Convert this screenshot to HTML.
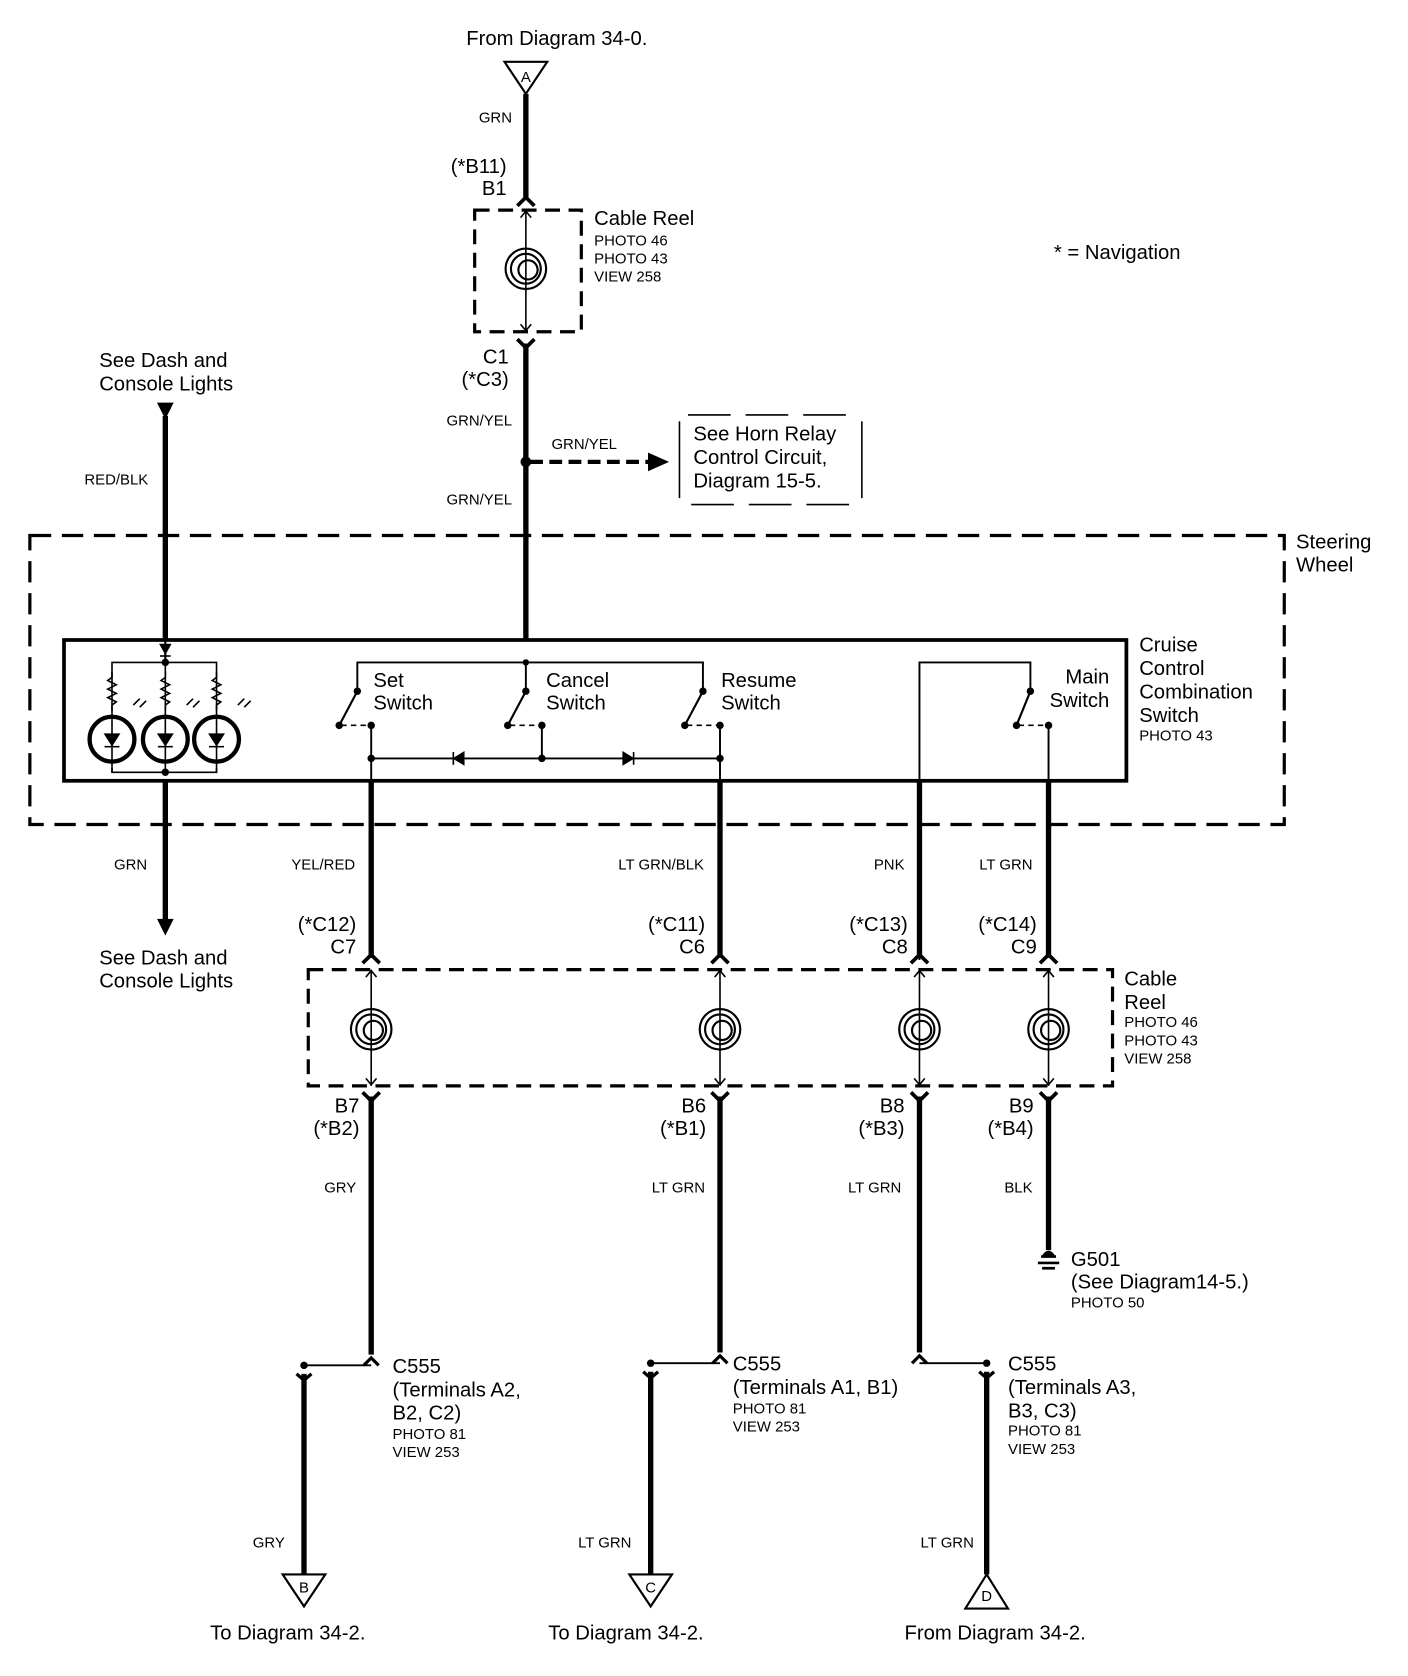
<!DOCTYPE html>
<html><head><meta charset="utf-8"><style>html,body{margin:0;padding:0;background:#fff}svg{display:block}text{font-family:"Liberation Sans",sans-serif;fill:#000}.s{font-size:14px}.b{font-size:19px}</style></head><body>
<svg width="1408" height="1676" viewBox="0 0 1320 1571.25" xmlns="http://www.w3.org/2000/svg">
<defs>
<g id="coil"><circle r="19" fill="none" stroke="#000" stroke-width="2"/><circle r="14" fill="none" stroke="#000" stroke-width="2"/><circle cx="2" cy="1" r="9" fill="none" stroke="#000" stroke-width="2"/></g>
<g id="led"><circle r="21" fill="none" stroke="#000" stroke-width="4"/><path d="M-7 -5 L7 -5 L0 6 Z" fill="#000"/><line x1="-7" y1="7" x2="7" y2="7" stroke="#000" stroke-width="1.5"/><path d="M20 -32 l6 -6 M26 -30 l6 -6" stroke="#000" stroke-width="1.5"/></g>
<g id="res"><path d="M0 0 v5 l-4 3 l8 4 l-8 4 l8 4 l-8 4 l8 4 l-4 3 v5" fill="none" stroke="#000" stroke-width="1.5"/></g>
</defs>
<g stroke="#000" fill="none">
<!-- top -->
<path d="M473 58 L513 58 L493 88 Z" stroke-width="2"/>
<line x1="493" y1="88" x2="493" y2="186" stroke-width="5"/>
<path d="M485 193 L493 185 L501 193" stroke-width="3.5"/>
<rect x="445" y="197" width="100" height="114" stroke-width="3" stroke-dasharray="14,8"/>
<line x1="493" y1="197" x2="493" y2="311" stroke-width="1.5"/>
<path d="M488 204 L493 198 L498 204 M488 304 L493 310 L498 304" stroke-width="1.5"/>
<use href="#coil" x="493" y="252"/>
<path d="M485 318 L493 326 L501 318" stroke-width="3.5"/>
<line x1="493" y1="322" x2="493" y2="600" stroke-width="5"/>
<line x1="497" y1="433" x2="610" y2="433" stroke-width="4" stroke-dasharray="12,6"/>
<path d="M608 425 L626 433 L608 441 Z" fill="#000"/>
<line x1="637" y1="395" x2="637" y2="467" stroke-width="1.5"/><line x1="808" y1="395" x2="808" y2="467" stroke-width="1.5"/>
<line x1="645" y1="389" x2="800" y2="389" stroke-width="1.5" stroke-dasharray="40,14"/>
<line x1="648" y1="473" x2="804" y2="473" stroke-width="1.5" stroke-dasharray="40,14"/>
<!-- left wire -->
<line x1="155" y1="390" x2="155" y2="600" stroke-width="5"/>
<path d="M148 378 L162 378 L155 392 Z" fill="#000"/>
<!-- steering wheel -->
<rect x="28" y="502" width="1176" height="271" stroke-width="3" stroke-dasharray="20,10"/>
<rect x="60" y="600" width="996" height="132" stroke-width="3.5"/>
<!-- LEDs -->
<path d="M150 604 L160 604 L155 613 Z" fill="#000"/><line x1="150" y1="615" x2="160" y2="615" stroke-width="1.5"/>
<line x1="155" y1="600" x2="155" y2="621" stroke-width="2"/>
<path d="M105 666 V621 H203 V666 M105 720 V724 H203 V720 M155 621 V666" stroke-width="1.5"/>
<use href="#res" x="105" y="630"/><use href="#res" x="155" y="630"/><use href="#res" x="203" y="630"/>
<line x1="105" y1="665" x2="105" y2="724" stroke-width="1.5"/><line x1="155" y1="665" x2="155" y2="724" stroke-width="1.5"/><line x1="203" y1="665" x2="203" y2="724" stroke-width="1.5"/>
<use href="#led" x="105" y="693"/><use href="#led" x="155" y="693"/><use href="#led" x="203" y="693"/>
<!-- switches -->
<path d="M335 648 V621 H659 V648 M493 621 V648 M862 900 V621 H966 V648" stroke-width="1.8"/>
<path d="M335 648 L318 680 M493 648 L476 680 M659 648 L642 680 M966 648 L953 680" stroke-width="2"/>
<path d="M320 680 H347 M478 680 H507 M644 680 H674 M955 680 H982" stroke-width="1.5" stroke-dasharray="5,4"/>
<path d="M348 680 V732 M508 680 V711 M675 680 V732 M983 680 V732 M348 711 H675" stroke-width="1.8"/>
<path d="M425 711 L435 705 L435 717 Z" fill="#000"/><line x1="425" y1="705" x2="425" y2="717" stroke-width="1.5"/>
<path d="M594 711 L584 705 L584 717 Z" fill="#000"/><line x1="594" y1="705" x2="594" y2="717" stroke-width="1.5"/>
<!-- down wires -->
<line x1="155" y1="732" x2="155" y2="864" stroke-width="5"/>
<path d="M148 862 L162 862 L155 876 Z" fill="#000"/>
<line x1="348" y1="732" x2="348" y2="898" stroke-width="5"/>
<line x1="675" y1="732" x2="675" y2="898" stroke-width="5"/>
<line x1="862" y1="732" x2="862" y2="898" stroke-width="5"/>
<line x1="983" y1="732" x2="983" y2="898" stroke-width="5"/>
<path d="M340 903 L348 895 L356 903 M667 903 L675 895 L683 903 M854 903 L862 895 L870 903 M975 903 L983 895 L991 903" stroke-width="3.5"/>
<rect x="289" y="909" width="754" height="109" stroke-width="3" stroke-dasharray="14,8"/>
<path d="M348 909 V1018 M675 909 V1018 M862 909 V1018 M983 909 V1018" stroke-width="1.5"/>
<path d="M343 916 L348 910 L353 916 M670 916 L675 910 L680 916 M857 916 L862 910 L867 916 M978 916 L983 910 L988 916 M343 1011 L348 1017 L353 1011 M670 1011 L675 1017 L680 1011 M857 1011 L862 1017 L867 1011 M978 1011 L983 1017 L988 1011" stroke-width="1.5"/>
<path d="M340 1024 L348 1032 L356 1024 M667 1024 L675 1032 L683 1024 M854 1024 L862 1032 L870 1024 M975 1024 L983 1032 L991 1024" stroke-width="3.5"/>
<line x1="348" y1="1028" x2="348" y2="1270" stroke-width="5"/>
<line x1="675" y1="1028" x2="675" y2="1268" stroke-width="5"/>
<line x1="862" y1="1028" x2="862" y2="1268" stroke-width="5"/>
<line x1="983" y1="1028" x2="983" y2="1172" stroke-width="5"/>
<path d="M976 1178 h14 M973 1184 h20 M977 1189 h12" stroke-width="2.5"/>
<path d="M977 1178 q6 -10 12 0 z" fill="#000" stroke-width="1"/>
<!-- C555 splices -->
<path d="M341 1280 L348 1273 L355 1280 M668 1278 L675 1271 L682 1278 M855 1278 L862 1271 L869 1278" stroke-width="3"/>
<path d="M285 1280 H348 M610 1278 H675 M862 1278 H925" stroke-width="1.8"/>
<path d="M278 1288 L285 1294 L292 1288 M603 1286 L610 1292 L617 1286 M918 1286 L925 1292 L932 1286" stroke-width="3"/>
<line x1="285" y1="1288" x2="285" y2="1476" stroke-width="5"/>
<line x1="610" y1="1286" x2="610" y2="1476" stroke-width="5"/>
<line x1="925" y1="1286" x2="925" y2="1476" stroke-width="5"/>
<path d="M265 1476 L305 1476 L285 1506 Z" stroke-width="2"/>
<path d="M590 1476 L630 1476 L610 1506 Z" stroke-width="2"/>
<path d="M925 1476 L905 1508 L945 1508 Z" stroke-width="2"/>
</g>
<g fill="#000">
<circle cx="493" cy="433" r="5"/><circle cx="155" cy="621" r="3.5"/><circle cx="155" cy="724" r="3.5"/><circle cx="493" cy="621" r="3"/>
<circle cx="335" cy="648" r="3.5"/><circle cx="493" cy="648" r="3.5"/><circle cx="659" cy="648" r="3.5"/><circle cx="966" cy="648" r="3.5"/>
<circle cx="318" cy="680" r="3.5"/><circle cx="476" cy="680" r="3.5"/><circle cx="642" cy="680" r="3.5"/><circle cx="953" cy="680" r="3.5"/>
<circle cx="348" cy="680" r="3.5"/><circle cx="508" cy="680" r="3.5"/><circle cx="675" cy="680" r="3.5"/><circle cx="983" cy="680" r="3.5"/>
<circle cx="348" cy="711" r="3.5"/><circle cx="508" cy="711" r="3.5"/><circle cx="675" cy="711" r="3.5"/>
<circle cx="285" cy="1280" r="3.5"/><circle cx="610" cy="1278" r="3.5"/><circle cx="925" cy="1278" r="3.5"/>
</g>
<use href="#coil" x="348" y="965"/><use href="#coil" x="675" y="965"/><use href="#coil" x="862" y="965"/><use href="#coil" x="983" y="965"/>
<!-- text -->
<text class="b" x="522" y="42" text-anchor="middle">From Diagram 34-0.</text>
<text class="s" x="493" y="77" text-anchor="middle">A</text>
<text class="s" x="480" y="115" text-anchor="end">GRN</text>
<text class="b" x="475" y="162" text-anchor="end">(*B11)</text>
<text class="b" x="475" y="183" text-anchor="end">B1</text>
<text class="b" x="557" y="211">Cable Reel</text>
<text class="s" x="557" y="230">PHOTO 46</text><text class="s" x="557" y="247">PHOTO 43</text><text class="s" x="557" y="264">VIEW 258</text>
<text class="b" x="477" y="341" text-anchor="end">C1</text>
<text class="b" x="477" y="362" text-anchor="end">(*C3)</text>
<text class="s" x="480" y="399" text-anchor="end">GRN/YEL</text>
<text class="s" x="517" y="421">GRN/YEL</text>
<text class="s" x="480" y="473" text-anchor="end">GRN/YEL</text>
<text class="b" x="650" y="413">See Horn Relay</text><text class="b" x="650" y="435">Control  Circuit,</text><text class="b" x="650" y="457">Diagram 15-5.</text>
<text class="b" x="988" y="243">* = Navigation</text>
<text class="b" x="93" y="344">See Dash and</text><text class="b" x="93" y="366">Console Lights</text>
<text class="s" x="139" y="454" text-anchor="end">RED/BLK</text>
<text class="b" x="1215" y="514">Steering</text><text class="b" x="1215" y="536">Wheel</text>
<text class="b" x="350" y="644">Set</text><text class="b" x="350" y="665">Switch</text>
<text class="b" x="512" y="644">Cancel</text><text class="b" x="512" y="665">Switch</text>
<text class="b" x="676" y="644">Resume</text><text class="b" x="676" y="665">Switch</text>
<text class="b" x="1040" y="641" text-anchor="end">Main</text><text class="b" x="1040" y="663" text-anchor="end">Switch</text>
<text class="b" x="1068" y="611">Cruise</text><text class="b" x="1068" y="633">Control</text><text class="b" x="1068" y="655">Combination</text><text class="b" x="1068" y="677">Switch</text>
<text class="s" x="1068" y="694">PHOTO 43</text>
<text class="s" x="138" y="815" text-anchor="end">GRN</text>
<text class="s" x="333" y="815" text-anchor="end">YEL/RED</text>
<text class="s" x="660" y="815" text-anchor="end">LT GRN/BLK</text>
<text class="s" x="848" y="815" text-anchor="end">PNK</text>
<text class="s" x="968" y="815" text-anchor="end">LT GRN</text>
<text class="b" x="93" y="904">See Dash and</text><text class="b" x="93" y="926">Console Lights</text>
<text class="b" x="334" y="873" text-anchor="end">(*C12)</text><text class="b" x="334" y="894" text-anchor="end">C7</text>
<text class="b" x="661" y="873" text-anchor="end">(*C11)</text><text class="b" x="661" y="894" text-anchor="end">C6</text>
<text class="b" x="851" y="873" text-anchor="end">(*C13)</text><text class="b" x="851" y="894" text-anchor="end">C8</text>
<text class="b" x="972" y="873" text-anchor="end">(*C14)</text><text class="b" x="972" y="894" text-anchor="end">C9</text>
<text class="b" x="1054" y="924">Cable</text><text class="b" x="1054" y="946">Reel</text>
<text class="s" x="1054" y="963">PHOTO 46</text><text class="s" x="1054" y="980">PHOTO 43</text><text class="s" x="1054" y="997">VIEW 258</text>
<text class="b" x="337" y="1043" text-anchor="end">B7</text><text class="b" x="337" y="1064" text-anchor="end">(*B2)</text>
<text class="b" x="662" y="1043" text-anchor="end">B6</text><text class="b" x="662" y="1064" text-anchor="end">(*B1)</text>
<text class="b" x="848" y="1043" text-anchor="end">B8</text><text class="b" x="848" y="1064" text-anchor="end">(*B3)</text>
<text class="b" x="969" y="1043" text-anchor="end">B9</text><text class="b" x="969" y="1064" text-anchor="end">(*B4)</text>
<text class="s" x="334" y="1118" text-anchor="end">GRY</text>
<text class="s" x="661" y="1118" text-anchor="end">LT GRN</text>
<text class="s" x="845" y="1118" text-anchor="end">LT GRN</text>
<text class="s" x="968" y="1118" text-anchor="end">BLK</text>
<text class="b" x="1004" y="1187">G501</text><text class="b" x="1004" y="1208">(See Diagram14-5.)</text><text class="s" x="1004" y="1226">PHOTO 50</text>
<text class="b" x="368" y="1287">C555</text><text class="b" x="368" y="1309">(Terminals A2,</text><text class="b" x="368" y="1331">B2, C2)</text><text class="s" x="368" y="1349">PHOTO 81</text><text class="s" x="368" y="1366">VIEW 253</text>
<text class="b" x="687" y="1285">C555</text><text class="b" x="687" y="1307">(Terminals A1, B1)</text><text class="s" x="687" y="1325">PHOTO 81</text><text class="s" x="687" y="1342">VIEW 253</text>
<text class="b" x="945" y="1285">C555</text><text class="b" x="945" y="1307">(Terminals A3,</text><text class="b" x="945" y="1329">B3, C3)</text><text class="s" x="945" y="1346">PHOTO 81</text><text class="s" x="945" y="1363">VIEW 253</text>
<text class="s" x="267" y="1451" text-anchor="end">GRY</text>
<text class="s" x="592" y="1451" text-anchor="end">LT GRN</text>
<text class="s" x="913" y="1451" text-anchor="end">LT GRN</text>
<text class="s" x="285" y="1493" text-anchor="middle">B</text>
<text class="s" x="610" y="1493" text-anchor="middle">C</text>
<text class="s" x="925" y="1501" text-anchor="middle">D</text>
<text class="b" x="197" y="1537">To Diagram 34-2.</text>
<text class="b" x="514" y="1537">To Diagram 34-2.</text>
<text class="b" x="848" y="1537">From Diagram 34-2.</text>
</svg>
</body></html>
